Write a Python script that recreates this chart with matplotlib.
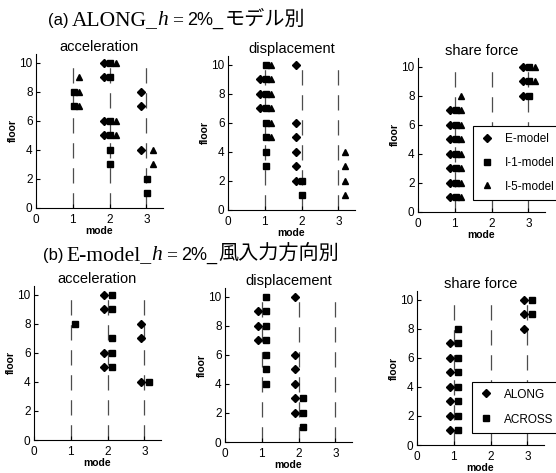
import matplotlib
matplotlib.use('Agg')

import matplotlib.pyplot as plt
from matplotlib.lines import Line2D

plt.rcParams['font.family'] = ['Liberation Sans', 'Noto Sans CJK JP']
plt.rcParams['lines.scale_dashes'] = False

W, H, DPI = 556, 473, 100

# floors reached by each mode, per model / direction  {mode: [floors]}
# (a) ALONG, h=2%, by model
acc_a_e = {2: [10, 9, 6, 5], 3: [8, 7, 4]}
acc_a_i1 = {1: [8, 7], 2: [10, 9, 6, 5, 4, 3], 3: [2, 1]}
acc_a_i5 = {1: [9, 8, 7], 2: [10, 6, 5], 3: [4, 3]}

disp_a_e = {1: [9, 8, 7], 2: [10, 6, 5, 4, 3, 2]}
disp_a_i1 = {1: [10, 9, 8, 7, 6, 5, 4, 3], 2: [2, 1]}
disp_a_i5 = {1: [10, 9, 8, 7, 6, 5], 3: [4, 3, 2, 1]}

shear_a_e = {1: [7, 6, 5, 4, 3, 2, 1], 3: [10, 9, 8]}
shear_a_i1 = {1: [7, 6, 5, 4, 3, 2, 1], 3: [10, 9, 8]}
shear_a_i5 = {1: [8, 7, 6, 5, 4, 3, 2, 1], 3: [10, 9]}

# (b) E-model, h=2%, by wind direction
acc_b_along = {2: [10, 9, 6, 5], 3: [8, 7, 4]}
acc_b_across = {1: [8], 2: [10, 9, 7, 6, 5], 3: [4]}

disp_b_along = {1: [9, 8, 7], 2: [10, 6, 5, 4, 3, 2]}
disp_b_across = {1: [10, 9, 8, 7, 6, 5, 4], 2: [3, 2, 1]}

shear_b_along = {1: [7, 6, 5, 4, 3, 2, 1], 3: [10, 9, 8]}
shear_b_across = {1: [8, 7, 6, 5, 4, 3, 2, 1], 3: [10, 9]}

modes = [1, 2, 3]
x_ticks = [0, 1, 2, 3]
y_ticks = [0, 2, 4, 6, 8, 10]

labels_a = ['E-model', 'I-1-model', 'I-5-model']
labels_b = ['ALONG', 'ACROSS']

mk = {'E': ('D', 4.0), 'I1': ('s', 3.8), 'I5': ('^', 4.6)}
mk_b = {'ALONG': ('D', 4.0), 'ACROSS': ('s', 3.8)}

narrow = ['Liberation Sans Narrow', 'Liberation Sans']

fig = plt.figure(figsize=(W / DPI, H / DPI), dpi=DPI)
fig.patch.set_facecolor('white')

AW, AH = 127, 154


def make_ax(left, bottom, title):
    ax = fig.add_axes([left / W, 1 - bottom / H, AW / W, AH / H])
    ax.set_xlim(0, 3.45)
    ax.set_ylim(0, 10.6)
    for s in ['top', 'right']:
        ax.spines[s].set_visible(False)
    for s in ['left', 'bottom']:
        ax.spines[s].set_linewidth(0.8)
    ax.set_xticks(x_ticks)
    ax.set_yticks(y_ticks)
    ax.tick_params(axis='both', direction='in', length=3, width=0.8, labelsize=8.5)
    ax.tick_params(axis='y', pad=2.5)
    ax.tick_params(axis='x', pad=4)
    ax.set_title(title, fontsize=10.5, pad=1)
    ax.set_xlabel('mode', fontsize=7.5, fontweight='bold', labelpad=0, family=narrow)
    ax.set_ylabel('floor', fontsize=7.5, fontweight='bold', labelpad=1, family=narrow)
    for m in modes:
        ax.plot([m, m], [0, 10], color='0.3', lw=0.9, ls=(0, (11, 7)), zorder=1)
    return ax


def scatter(ax, data, marker, size, dx):
    xs, ys = [], []
    for m, fl in data.items():
        for f in fl:
            xs.append(m + dx)
            ys.append(f)
    ax.plot(xs, ys, ls='none', marker=marker, ms=size, color='black', zorder=3)


# row (a)
ax = make_ax(36, 208, 'acceleration')
for d, k, dx in [(acc_a_e, 'E', -0.14), (acc_a_i1, 'I1', 0.02), (acc_a_i5, 'I5', 0.17)]:
    scatter(ax, d, mk[k][0], mk[k][1], dx)

ax = make_ax(228, 210, 'displacement')
for d, k, dx in [(disp_a_e, 'E', -0.14), (disp_a_i1, 'I1', 0.02), (disp_a_i5, 'I5', 0.17)]:
    scatter(ax, d, mk[k][0], mk[k][1], dx)

ax = make_ax(418, 212, 'share force')
for d, k, dx in [(shear_a_e, 'E', -0.14), (shear_a_i1, 'I1', 0.02), (shear_a_i5, 'I5', 0.17)]:
    scatter(ax, d, mk[k][0], mk[k][1], dx)
handles = [Line2D([], [], ls='none', marker=mk[k][0], ms=mk[k][1], color='black')
           for k in ['E', 'I1', 'I5']]
leg = ax.legend(handles, labels_a, loc='lower left', bbox_to_anchor=(0.433, 0.08),
                borderaxespad=0, fancybox=False, framealpha=1, edgecolor='black',
                borderpad=0.6, handlelength=1.2, handletextpad=0.9, labelspacing=1.0,
                prop={'family': narrow, 'size': 8.5})
leg.get_frame().set_linewidth(0.8)

# row (b)
ax = make_ax(34, 440, 'acceleration')
for d, k, dx in [(acc_b_along, 'ALONG', -0.1), (acc_b_across, 'ACROSS', 0.12)]:
    scatter(ax, d, mk_b[k][0], mk_b[k][1], dx)

ax = make_ax(225, 442, 'displacement')
for d, k, dx in [(disp_b_along, 'ALONG', -0.1), (disp_b_across, 'ACROSS', 0.12)]:
    scatter(ax, d, mk_b[k][0], mk_b[k][1], dx)

ax = make_ax(417, 445, 'share force')
for d, k, dx in [(shear_b_along, 'ALONG', -0.1), (shear_b_across, 'ACROSS', 0.12)]:
    scatter(ax, d, mk_b[k][0], mk_b[k][1], dx)
handles = [Line2D([], [], ls='none', marker=mk_b[k][0], ms=mk_b[k][1], color='black')
           for k in ['ALONG', 'ACROSS']]
leg = ax.legend(handles, labels_b, loc='lower left', bbox_to_anchor=(0.433, 0.08),
                borderaxespad=0, fancybox=False, framealpha=1, edgecolor='black',
                borderpad=0.6, handlelength=1.2, handletextpad=0.9, labelspacing=1.1,
                prop={'family': narrow, 'size': 8.5})
leg.get_frame().set_linewidth(0.8)


# row headings: mixed fonts, laid out piece by piece
def heading(x0, ybase, pieces):
    r = fig.canvas.get_renderer()
    x = x0
    for s, gap, kw in pieces:
        x += gap
        t = fig.text(x / W, 1 - ybase / H, s, ha='left', va='baseline', **kw)
        x = t.get_window_extent(renderer=r).x1


serif = ['Liberation Serif']
jp = ['Liberation Sans', 'Noto Sans CJK JP']

heading(48, 25, [
    ('(a)', 0, dict(fontsize=12)),
    ('ALONG_', 3, dict(fontsize=15.5, family=serif)),
    ('h', 0, dict(fontsize=15.5, family=serif, style='italic')),
    ('=', 4, dict(fontsize=14, family=serif)),
    ('2%_', 4, dict(fontsize=13, family=jp)),
    ('モデル別', 1, dict(fontsize=14.5, family=jp)),
])
heading(43, 260, [
    ('(b)', 0, dict(fontsize=12)),
    ('E-model_', 3, dict(fontsize=15.5, family=serif)),
    ('h', 0, dict(fontsize=15.5, family=serif, style='italic')),
    ('=', 4, dict(fontsize=14, family=serif)),
    ('2%_', 4, dict(fontsize=13, family=jp)),
    ('風入力方向別', 1, dict(fontsize=14.5, family=jp)),
])

fig.savefig('out.png', dpi=DPI)
